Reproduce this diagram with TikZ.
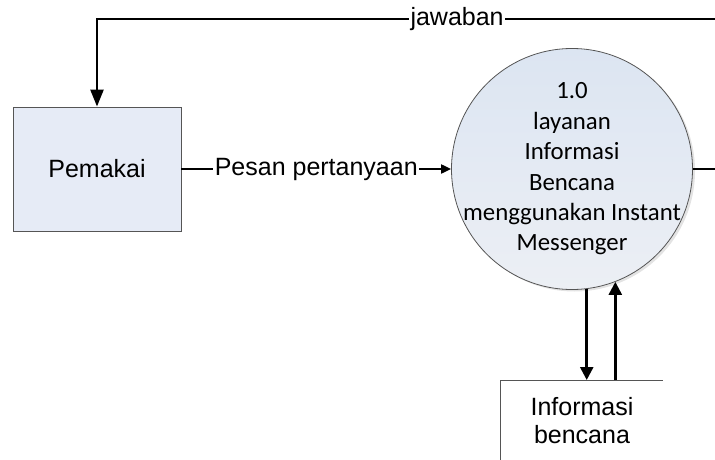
\documentclass[tikz,border=0pt]{standalone}
\usepackage{fontspec}
\setmainfont{Liberation Sans}
\newfontfamily\calibrifont{Carlito}
\usetikzlibrary{arrows.meta,shadows}

\definecolor{entityfill}{RGB}{230,235,246}
\definecolor{proctop}{RGB}{220,229,242}
\definecolor{procbot}{RGB}{236,239,244}
\definecolor{edgegray}{RGB}{85,85,85}

\tikzset{
  flow/.style={line width=2.5pt, -{Triangle[length=13pt,width=13pt]}},
  flowsmall/.style={line width=2pt, -{Triangle[length=10pt,width=9pt]}},
  entity/.style={draw=edgegray, line width=0.9pt, fill=entityfill,
    minimum width=168pt, minimum height=124pt, inner sep=0pt,
    font=\fontsize{25}{29}\selectfont},
  process/.style={circle, draw=edgegray, line width=0.8pt,
    top color=proctop, bottom color=procbot, shading angle=0,
    minimum size=241pt, inner sep=0pt,
    drop shadow={opacity=0.22, shadow xshift=2.5pt, shadow yshift=-2pt}},
  proclabel/.style={align=center, inner sep=0pt,
    font=\calibrifont\fontsize{24.8}{30.4}\selectfont},
  flowlabel/.style={fill=white, inner sep=1.5pt,
    font=\fontsize{25}{29}\selectfont},
  storetext/.style={align=center, font=\fontsize{25}{28}\selectfont}
}

\begin{document}
\begin{tikzpicture}[x=1pt, y=-1pt]
  \useasboundingbox (0,0) rectangle (715,460);
  \clip (0,0) rectangle (715,460);

  % external entity and the process bubble
  \node[entity] (pem) at (97,169) {Pemakai};
  \node[process] (proc) at (572,169) {};
  \node[proclabel] (proctext) at (proc.center)
    {1.0\\layanan\\Informasi\\Bencana\\menggunakan Instant\\Messenger};

  % data store: open rectangle
  \coordinate (storeTL) at (500,380);
  \coordinate (storeTR) at (663,380);
  \coordinate (storeBL) at (500,470);
  \draw[line width=0.8pt, edgegray] (storeBL) -- (storeTL) -- (storeTR);
  \node[storetext] (store) at (582,421) {Informasi\\bencana};

  % query from user into the process
  \draw[flowsmall] (pem.east) -- node[flowlabel] {Pesan pertanyaan} (proc.west);

  % answer back to the user, routed over the top
  \coordinate (outR) at (740,169);
  \coordinate (topR) at (740,19);
  \coordinate (topL) at (97,19);
  \draw[flow, -{Triangle[length=17pt,width=13pt]}] (proc.east) -- (outR) -- (topR)
    -- node[flowlabel, pos=0.44] {jawaban} (topL) -- (pem.north);

  % read / write with the data store
  \draw[flow] (proc.-83) -- (proc.-83 |- storeTL);
  \draw[flow] (proc.-69.5 |- storeTL) -- (proc.-69.5);
\end{tikzpicture}
\end{document}
